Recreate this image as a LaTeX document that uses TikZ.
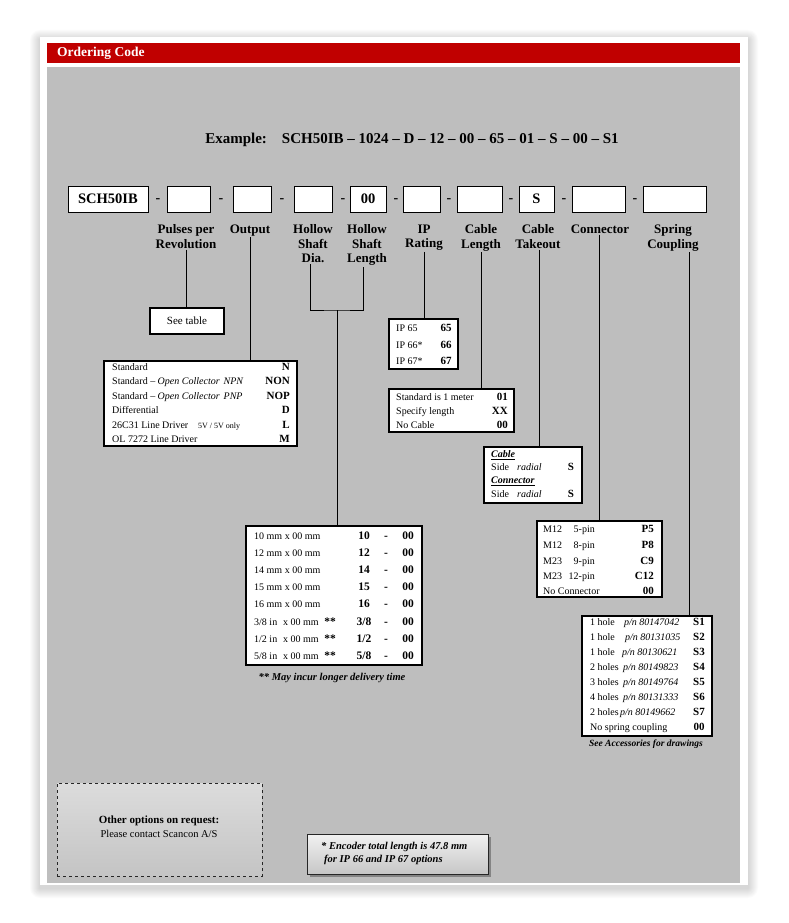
\documentclass[tikz,border=0pt]{standalone}
\usepackage{fontspec}
\setmainfont{Liberation Serif}
\definecolor{hdr}{HTML}{C00000}
\definecolor{panel}{HTML}{BEBEBE}
\definecolor{gtop}{HTML}{DCDCDC}
\definecolor{gbot}{HTML}{C4C4C4}
\definecolor{etop}{HTML}{F2F2F2}
\definecolor{ebot}{HTML}{C6C6C6}
\begin{document}
\begin{tikzpicture}[x=1pt,y=-1pt,
  codebox/.style={draw=black, line width=1pt, fill=white, minimum height=26pt, inner sep=0pt, font=\fontsize{14.5}{16}\selectfont\bfseries},
  sep/.style={font=\fontsize{14}{16}\selectfont\bfseries, inner sep=0pt},
  lbl/.style={font=\fontsize{13}{14.5}\selectfont\bfseries, align=center, anchor=north, inner sep=1pt},
  tbl/.style={draw=black, line width=1.1pt, fill=white, inner sep=0pt},
  tx/.style={font=\fontsize{10}{12}\selectfont, inner sep=0pt, anchor=base west},
  txe/.style={font=\fontsize{10}{12}\selectfont, inner sep=0pt, anchor=base east},
  cd/.style={font=\fontsize{11}{13}\selectfont\bfseries, inner sep=0pt, anchor=base east},
  cdc/.style={font=\fontsize{11.5}{13}\selectfont\bfseries, inner sep=0pt, anchor=base},
  conn/.style={line width=0.9pt, black},
]
\useasboundingbox (0,0) rectangle (789,923);
\fill[white] (0,0) rectangle (789,923);
% card shadow
\foreach \d in {1,...,10}
  \fill[black,opacity=0.015,rounded corners=\d pt] ({40-\d},{37-\d+3}) rectangle ({748+\d},{885+\d+3});
\fill[white] (40,37) rectangle (748,885);
\fill[hdr] (47,43) rectangle (740,63);
\node[anchor=west, text=white, font=\fontsize{13.5}{15}\selectfont\bfseries, inner sep=0pt] (title) at (57,53.5) {Ordering Code};
\fill[panel] (47,67) rectangle (740,883);

% example
\node[font=\fontsize{15}{17}\selectfont\bfseries, inner sep=0pt] (example) at (412,140) {Example:\hspace{10pt} SCH50IB – 1024 – D – 12 – 00 – 65 – 01 – S – 00 – S1};

% code boxes
\node[codebox, minimum width=80pt] (b0) at (108,199) {SCH50IB};
\node[codebox, minimum width=43pt] (b1) at (188.5,199) {};
\node[codebox, minimum width=38pt] (b2) at (252,199) {};
\node[codebox, minimum width=38pt] (b3) at (313,199) {};
\node[codebox, minimum width=36pt] (b4) at (368,199) {00};
\node[codebox, minimum width=37pt] (b5) at (421.5,199) {};
\node[codebox, minimum width=45pt] (b6) at (479.5,199) {};
\node[codebox, minimum width=35pt] (b7) at (536.5,199) {S};
\node[codebox, minimum width=53pt] (b8) at (598.5,199) {};
\node[codebox, minimum width=63pt] (b9) at (674.5,199) {};
\foreach \i/\x in {1/158,2/221,3/282,4/343,5/396,6/449,7/511,8/564,9/635}
  \node[sep] (s\i) at (\x,201) {-};

% labels
\node[lbl] (lPulses) at (186,223.5) {Pulses per\\Revolution};
\node[lbl] (lOut) at (250,223.5) {Output};
\node[lbl] (lDia) at (313,223.5) {Hollow\\Shaft\\Dia.};
\node[lbl] (lLen) at (367,223.5) {Hollow\\Shaft\\Length};
\node[lbl] (lIP) at (424,223.5) {IP\\Rating};
\node[lbl] (lCL) at (481,223.5) {Cable\\Length};
\node[lbl] (lCT) at (538,223.5) {Cable\\Takeout};
\node[lbl] (lCon) at (600,223.5) {Connector};
\node[lbl] (lSp) at (673,223.5) {Spring\\Coupling};

% table frames
\node[tbl, minimum width=74pt, minimum height=26pt, font=\fontsize{11}{13}\selectfont] (seetable) at (187,321) {See table};
\node[tbl, minimum width=193pt, minimum height=85pt] (outtbl) at (200.5,403.5) {};
\node[tbl, minimum width=69pt, minimum height=50pt] (iptbl) at (423.5,344) {};
\node[tbl, minimum width=125pt, minimum height=43pt] (cltbl) at (451.5,410.5) {};
\node[tbl, minimum width=98pt, minimum height=56pt] (cttbl) at (533,475) {};
\node[tbl, minimum width=125pt, minimum height=76pt] (contbl) at (599.5,559) {};
\node[tbl, minimum width=176pt, minimum height=139pt] (hstbl) at (334,595.5) {};
\node[tbl, minimum width=130pt, minimum height=120pt] (sptbl) at (647,676) {};

% connectors
\draw[conn] (lPulses.south) -- (lPulses.south |- seetable.north);
\draw[conn] (lOut.south) -- (lOut.south |- outtbl.north);
\coordinate (dia) at ([xshift=-3pt]lDia.south);
\coordinate (len) at ([xshift=-4pt]lLen.south);
\coordinate (hsj) at (337,310);
\draw[conn] (dia) |- (hsj) -| (len);
\draw[conn] (hsj) -- (hsj |- hstbl.north);
\draw[conn] (lIP.south) -- (lIP.south |- iptbl.north);
\draw[conn] (lCL.south) -- (lCL.south |- cltbl.north);
\coordinate (ctx) at ([xshift=1pt]lCT.south);
\draw[conn] (ctx) -- (ctx |- cttbl.north);
\coordinate (cox) at ([xshift=-1pt]lCon.south);
\draw[conn] (cox) -- (cox |- contbl.north);
\coordinate (spx) at ([xshift=16pt]lSp.south);
\draw[conn] (spx) -- (spx |- sptbl.north);

% output table
\node[tx] (o1) at (112,370.5) {Standard};
\node[tx] (o2) at (112,384.9) {Standard – \textit{Open Collector\hspace{4pt}NPN}};
\node[tx] (o3) at (112,399.3) {Standard – \textit{Open Collector\hspace{4pt}PNP}};
\node[tx] (o4) at (112,413.7) {Differential};
\node[tx] (o5) at (112,428.1) {26C31 Line Driver};
\node[tx, font=\fontsize{8}{10}\selectfont] (o5b) at (198,428.1) {5V / 5V only};
\node[tx] (o6) at (112,442.5) {OL 7272 Line Driver};
\node[cd] (oc1) at (290,370.5) {N};
\node[cd] (oc2) at (290,384.9) {NON};
\node[cd] (oc3) at (290,399.3) {NOP};
\node[cd] (oc4) at (290,413.7) {D};
\node[cd] (oc5) at (290,428.1) {L};
\node[cd] (oc6) at (290,442.5) {M};

% IP table
\node[tx] (ip1) at (396,331.5) {IP 65};
\node[tx] (ip2) at (396,348.5) {IP 66*};
\node[tx] (ip3) at (396,364.5) {IP 67*};
\node[cdc, font=\fontsize{11}{13}\selectfont\bfseries] (ipc1) at (446,331.5) {65};
\node[cdc, font=\fontsize{11}{13}\selectfont\bfseries] (ipc2) at (446,348.5) {66};
\node[cdc, font=\fontsize{11}{13}\selectfont\bfseries] (ipc3) at (446,364.5) {67};

% cable length table
\node[tx] (cl1) at (396,400.5) {Standard is 1 meter};
\node[tx] (cl2) at (396,414.5) {Specify length};
\node[tx] (cl3) at (396,428.5) {No Cable};
\node[cd] (clc1) at (508,400.5) {01};
\node[cd] (clc2) at (508,414.5) {XX};
\node[cd] (clc3) at (508,428.5) {00};

% cable takeout table
\node[tx, font=\fontsize{10}{12}\selectfont\bfseries\itshape] (ct1) at (491,457.5) {\underline{Cable}};
\node[tx] (ct2) at (491,470.5) {Side};
\node[tx] (ct2b) at (517,470.5) {\textit{radial}};
\node[cdc, font=\fontsize{11}{13}\selectfont\bfseries] (ctc2) at (571,470.5) {S};
\node[tx, font=\fontsize{10}{12}\selectfont\bfseries\itshape] (ct3) at (491,483.5) {\underline{Connector}};
\node[tx] (ct4) at (491,497.5) {Side};
\node[tx] (ct4b) at (517,497.5) {\textit{radial}};
\node[cdc, font=\fontsize{11}{13}\selectfont\bfseries] (ctc4) at (571,497.5) {S};

% connector table
\node[tx] (co1) at (543,532.5) {M12};
\node[tx] (co2) at (543,548.5) {M12};
\node[tx] (co3) at (543,564.5) {M23};
\node[tx] (co4) at (543,579.5) {M23};
\node[tx] (co5) at (543,594.5) {No Connector};
\node[txe] (cp1) at (595,532.5) {5-pin};
\node[txe] (cp2) at (595,548.5) {8-pin};
\node[txe] (cp3) at (595,564.5) {9-pin};
\node[txe] (cp4) at (595,579.5) {12-pin};
\node[cd] (coc1) at (654,532.5) {P5};
\node[cd] (coc2) at (654,548.5) {P8};
\node[cd] (coc3) at (654,564.5) {C9};
\node[cd] (coc4) at (654,579.5) {C12};
\node[cd] (coc5) at (654,594.5) {00};

% hollow shaft table
\foreach \i/\t/\c in {1/{10 mm x 00 mm}/10,2/{12 mm x 00 mm}/12,3/{14 mm x 00 mm}/14,4/{15 mm x 00 mm}/15,5/{16 mm x 00 mm}/16}{
  \pgfmathsetmacro\yy{539.5+17.1*(\i-1)}
  \node[tx] (hs\i) at (254,\yy) {\t};
  \node[cdc] (hsc\i) at (364,\yy) {\c};
}
\node[tx] (hs6) at (254,625.0) {3/8 in};
\node[tx] (hs7) at (254,642.1) {1/2 in};
\node[tx] (hs8) at (254,659.2) {5/8 in};
\node[tx] (hsx6) at (283,625.0) {x 00 mm};
\node[tx] (hsx7) at (283,642.1) {x 00 mm};
\node[tx] (hsx8) at (283,659.2) {x 00 mm};
\node[cdc] (hss6) at (330,625.0) {**};
\node[cdc] (hss7) at (330,642.1) {**};
\node[cdc] (hss8) at (330,659.2) {**};
\node[cdc] (hsc6) at (364,625.0) {3/8};
\node[cdc] (hsc7) at (364,642.1) {1/2};
\node[cdc] (hsc8) at (364,659.2) {5/8};
\foreach \i in {1,...,8}{
  \pgfmathsetmacro\yy{539.5+17.1*(\i-1)}
  \node[cdc] (hsd\i) at (386,\yy) {-};
  \node[cdc] (hsz\i) at (408,\yy) {00};
}
\node[font=\fontsize{10.5}{12}\selectfont\bfseries\itshape, inner sep=0pt] (hsnote) at (332,678) {** May incur longer delivery time};

% spring coupling table
\node[tx] (sp1) at (590,625.5) {1 hole};
\node[tx] (sp2) at (590,640.5) {1 hole};
\node[tx] (sp3) at (590,655.5) {1 hole};
\node[tx] (sp4) at (590,670.5) {2 holes};
\node[tx] (sp5) at (590,685.5) {3 holes};
\node[tx] (sp6) at (590,700.5) {4 holes};
\node[tx] (sp7) at (590,715.5) {2 holes};
\node[tx] (sp8) at (590,730.5) {No spring coupling};
\node[tx] (pn1) at (624,625.5) {\textit{p/n 80147042}};
\node[tx] (pn2) at (625,640.5) {\textit{p/n 80131035}};
\node[tx] (pn3) at (622,655.5) {\textit{p/n 80130621}};
\node[tx] (pn4) at (623,670.5) {\textit{p/n 80149823}};
\node[tx] (pn5) at (623,685.5) {\textit{p/n 80149764}};
\node[tx] (pn6) at (623,700.5) {\textit{p/n 80131333}};
\node[tx] (pn7) at (620,715.5) {\textit{p/n 80149662}};
\foreach \i/\c in {1/S1,2/S2,3/S3,4/S4,5/S5,6/S6,7/S7,8/00}{
  \pgfmathsetmacro\yy{625.5+15*(\i-1)}
  \node[cdc, font=\fontsize{11}{13}\selectfont\bfseries] (spc\i) at (699,\yy) {\c};
}
\node[font=\fontsize{9.5}{11}\selectfont\bfseries\itshape, inner sep=0pt] (spnote) at (646,744) {See Accessories for drawings};

% bottom boxes
\node[draw=black!85, dashed, line width=0.8pt, top color=gtop, bottom color=gbot, minimum width=205pt, minimum height=93pt, inner sep=0pt] (other) at (159.5,829.5) {};
\node[font=\fontsize{11}{13}\selectfont\bfseries, inner sep=0pt] (oth1) at (159,821) {Other options on request:};
\node[font=\fontsize{10.5}{12}\selectfont, inner sep=0pt] (oth2) at (159,834) {Please contact Scancon A/S};

\fill[black,opacity=0.3] (310,837) rectangle (491,877);
\node[draw=black!85, line width=1pt, top color=etop, bottom color=ebot, minimum width=181pt, minimum height=40pt, inner sep=0pt] (enc) at (397.5,854) {};
\node[tx, font=\fontsize{10.5}{12}\selectfont\bfseries\itshape] (enc1) at (321,849.5) {* Encoder total length is 47.8 mm};
\node[tx, font=\fontsize{10.5}{12}\selectfont\bfseries\itshape] (enc2) at (324,862.5) {for IP 66 and IP 67 options};
\end{tikzpicture}
\end{document}
